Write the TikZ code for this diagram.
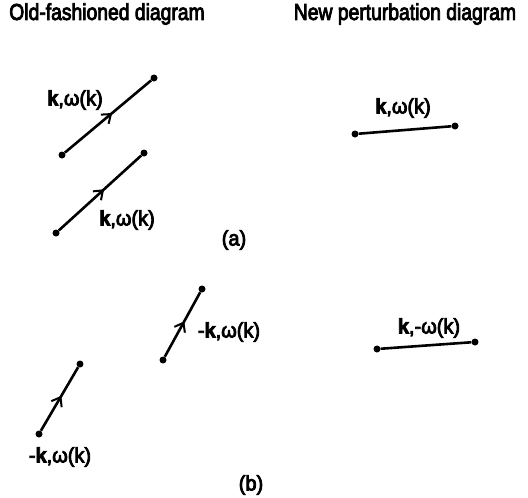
\documentclass[tikz,border=0pt]{standalone}
\usepackage{fontspec}
\setmainfont{Liberation Sans}
\newfontfamily\heavy{Liberation Sans}[FakeBold=4]
\usetikzlibrary{decorations.markings,arrows.meta}
\begin{document}
\begin{tikzpicture}[x=1pt,y=-1pt,
  dot/.style={circle,fill=black,inner sep=0pt,minimum size=7pt},
  prop/.style={line width=2.6pt},
  arrowed/.style={prop,postaction={decorate},decoration={markings,mark=at position 0.55 with {\arrow{Straight Barb[length=8pt,width=12pt,line width=2pt]}}}},
  lbl/.style={font=\heavy\fontsize{21}{24}\selectfont,inner sep=0pt,xscale=0.95},
  ttl/.style={font=\heavy\fontsize{23}{26}\selectfont,inner sep=0pt,xscale=0.84}]
\useasboundingbox (0,0) rectangle (528,498);
% titles
\node[ttl] (t1) at (107,14) {Old-fashioned diagram};
\node[ttl] (t2) at (405,14) {New perturbation diagram};
% (a) old
\node[dot] (a1s) at (62,155) {};
\node[dot] (a1e) at (154,78) {};
\draw[arrowed] (a1s) -- (a1e);
\node[lbl] (la1) at (75,100) {\textbf{k},ω(k)};
\node[dot] (a2s) at (56,233) {};
\node[dot] (a2e) at (144,153) {};
\draw[arrowed] (a2s) -- (a2e);
\node[lbl] (la2) at (127,220) {\textbf{k},ω(k)};
\node[lbl] (pa) at (234,240) {(a)};
% (a) new
\node[dot] (n1s) at (355,134) {};
\node[dot] (n1e) at (455,126) {};
\draw[prop] (n1s) -- (n1e);
\node[lbl] (ln1) at (403,108) {\textbf{k},ω(k)};
% (b) old
\node[dot] (b1s) at (39,434) {};
\node[dot] (b1e) at (80,364) {};
\draw[arrowed] (b1s) -- (b1e);
\node[lbl] (lb1) at (60,457) {-\textbf{k},ω(k)};
\node[dot] (b2s) at (163,360) {};
\node[dot] (b2e) at (202,289) {};
\draw[arrowed] (b2s) -- (b2e);
\node[lbl] (lb2) at (229,332) {-\textbf{k},ω(k)};
\node[lbl] (pb) at (251,485) {(b)};
% (b) new
\node[dot] (n2s) at (377,349) {};
\node[dot] (n2e) at (475,342) {};
\draw[prop] (n2s) -- (n2e);
\node[lbl] (ln2) at (429,328) {\textbf{k},-ω(k)};
\end{tikzpicture}
\end{document}
